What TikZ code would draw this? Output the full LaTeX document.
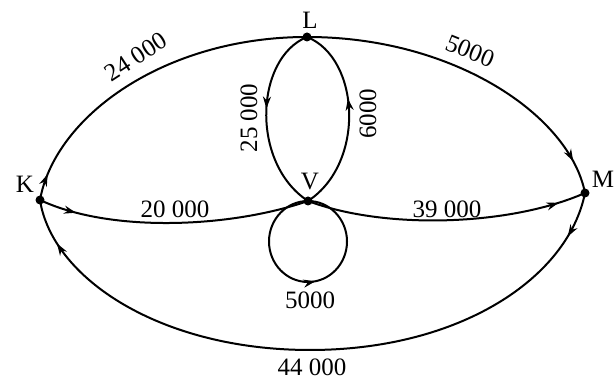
\documentclass[tikz,border=0pt]{standalone}
\usepackage{fontspec}
\setmainfont{Liberation Serif}
\usetikzlibrary{arrows.meta,decorations.markings}
\tikzset{
  dotnode/.style={circle,fill=black,inner sep=0pt,minimum size=4.5pt},
  lbl/.style={inner sep=0pt,font=\fontsize{12.5}{15}\selectfont},
  edge/.style={line width=1pt},
  arrowat/.style={postaction={decorate},decoration={markings,
    mark=at position #1 with {\arrow{Stealth[length=6pt,width=4pt]}}}},
  twoarrows/.style 2 args={postaction={decorate},decoration={markings,
    mark=at position #1 with {\arrow{Stealth[length=6pt,width=4pt]}},
    mark=at position #2 with {\arrow{Stealth[length=6pt,width=4pt]}}}}
}
\begin{document}
\begin{tikzpicture}[x=0.5pt,y=0.5pt]
\useasboundingbox (0,0) rectangle (615,378);
% vertices
\node[dotnode] (K) at (40,178) {};
\node[dotnode] (L) at (307,341) {};
\node[dotnode] (M) at (585,185) {};
\node[dotnode] (V) at (308,177) {};
% vertex labels
\node[lbl] (lK) at (25,194) {K};
\node[lbl] (lL) at (310,358) {L};
\node[lbl] (lM) at (603,199) {M};
\node[lbl] (lV) at (310,196) {V};
% edges
\draw[edge,arrowat=0.08] (K.center) .. controls (55,262) and (165,341) .. (L.center);
\draw[edge,arrowat=0.9] (L.center) .. controls (455,341) and (570,262) .. (M.center);
\draw[edge,twoarrows={0.07}{0.93}] (M.center) .. controls (568,100) and (460,28) .. (310,28)
      .. controls (160,28) and (52,100) .. (K.center);
\draw[edge,arrowat=0.14] (K.center) .. controls (110,145) and (230,150) .. (V.center);
\draw[edge,arrowat=0.9] (V.center) .. controls (385,148) and (510,152) .. (M.center);
\draw[edge,arrowat=0.45] (L.center) .. controls (255,320) and (250,215) .. (V.center);
\draw[edge,arrowat=0.6] (V.center) .. controls (366,215) and (360,320) .. (L.center);
\draw[edge,arrowat=0.53] (V.center) arc[start angle=90,end angle=450,x radius=39,y radius=40.5];
% edge labels
\node[lbl,rotate=33] (e1) at (136,321) {24 000};
\node[lbl,rotate=-22] (e2) at (470,327) {5000};
\node[lbl,rotate=90] (e3) at (249,260) {25 000};
\node[lbl,rotate=90] (e4) at (368,264) {6000};
\node[lbl] (e5) at (175,169) {20 000};
\node[lbl] (e6) at (447,169) {39 000};
\node[lbl] (e7) at (310,78) {5000};
\node[lbl] (e8) at (312,11) {44 000};
\end{tikzpicture}
\end{document}
